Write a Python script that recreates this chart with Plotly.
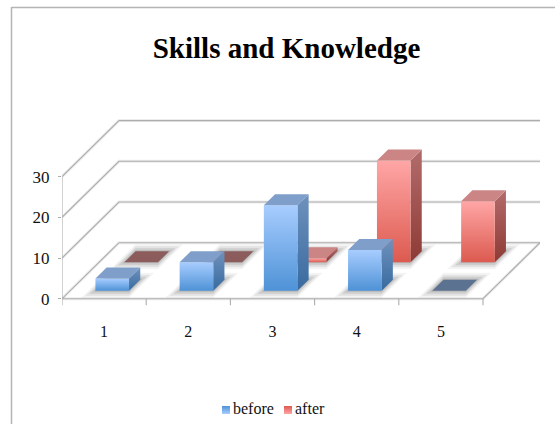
import plotly.graph_objects as go

# ---- data ----
categories = [1, 2, 3, 4, 5]
category_labels = ["1", "2", "3", "4", "5"]
before = [3, 7, 21, 10, 0]
after = [0, 0, 1, 25, 15]
value_ticks = [0, 10, 20, 30]
title_text = "Skills and Knowledge"

# ---- oblique projection of (category, value, depth) on the 2D axes ----
W, H = 555, 424
PX_CAT, PX_VAL = 84.2, 4.07
ML, MR, MT, MB = 62, 15, 100, 0
ZERO_PX = 298.7
DEPTH_X, DEPTH_Y = 57.0, 56.0   # pixels covered by the full floor depth


def P(c, v, d, ex=0.0):
    return (c + (d * DEPTH_X + ex) / PX_CAT, v + d * DEPTH_Y / PX_VAL)


def poly(points, **kw):
    xs = [p[0] for p in points] + [points[0][0]]
    ys = [p[1] for p in points] + [points[0][1]]
    return go.Scatter(x=xs, y=ys, mode="lines", fill="toself", line=dict(width=0),
                      hoverinfo="skip", showlegend=False, **kw)


def grad(top, bottom):
    return dict(type="vertical", colorscale=[[0, bottom], [1, top]])


fig = go.Figure()
L, R = 0.5, 5.5
GRID = "#adadad"


def line(points, color=GRID, width=1.1):
    fig.add_trace(go.Scatter(x=[p[0] for p in points], y=[p[1] for p in points], mode="lines",
                             line=dict(color=color, width=width), hoverinfo="skip", showlegend=False))


# floor
fig.add_trace(poly([P(L, 0, 0), P(R, 0, 0), P(R, 0, 1), P(L, 0, 1)], fillcolor="#ffffff"))
# gridlines on side and back wall
for v in value_ticks:
    pts = [P(L, v, 0), P(L, v, 1), P(R, v, 1)]
    line(pts, "rgba(170,170,170,0.22)", 3)
    line(pts)
line([P(R, 0, 1), P(R, 0, 0), P(L, 0, 0)], "rgba(170,170,170,0.22)", 3)
line([P(R, 0, 1), P(R, 0, 0), P(L, 0, 0)])
line([P(L, 0, 0), P(L, value_ticks[-1], 0)])
# category tick marks
edges = [c - 0.5 for c in categories] + [categories[-1] + 0.5]
for e in edges:
    x, y = P(e, 0, 0)
    line([(x, y), (x, y - 6.5 / PX_VAL)])

HALF = 16.8 / PX_CAT    # half width of a bar
D = 11.0 / DEPTH_Y      # bar depth
styles = {
    "before": dict(d0=8.0 / DEPTH_Y, front=("#a8cdff", "#4e92d6"), side=("#6f92bd", "#386a9f"),
                   top="#7f9fca", flat="#5c7291"),
    "after": dict(d0=36.4 / DEPTH_Y, front=("#ffa6a6", "#dc5a4f"), side=("#b26c6c", "#8e3a35"),
                  top="#cb8585", flat="#8c5b5b"),
}


def footprint(c, s, grow=0.0):
    d0 = s["d0"] - grow / DEPTH_Y
    d1 = s["d0"] + D + grow / DEPTH_Y
    a, b = c - HALF, c + HALF
    return [P(a, 0, d0, -grow), P(b, 0, d0, grow), P(b, 0, d1, grow), P(a, 0, d1, -grow)]


# shadows on the floor
for name in ("after", "before"):
    for c in categories:
        for g, a in ((7, .06), (5, .09), (3, .12), (1, .15)):
            fig.add_trace(poly(footprint(c, styles[name], g), fillcolor=f"rgba(60,60,60,{a})"))

# bars: back row first, so that the front row overlaps it
for name, vals in (("after", after), ("before", before)):
    s = styles[name]
    d0, d1 = s["d0"], s["d0"] + D
    for c, v in zip(categories, vals):
        a, b = c - HALF, c + HALF
        if v > 0:
            fig.add_trace(poly([P(b, 0, d0), P(b, 0, d1), P(b, v, d1), P(b, v, d0)],
                               fillgradient=grad(*s["side"])))
            fig.add_trace(poly([P(a, 0, d0), P(b, 0, d0), P(b, v, d0), P(a, v, d0)],
                               fillgradient=grad(*s["front"])))
        fig.add_trace(poly([P(a, v, d0), P(b, v, d0), P(b, v, d1), P(a, v, d1)],
                           fillcolor=s["top"] if v > 0 else s["flat"]))

font = "Liberation Serif"
TXT = "#111111"

# category labels, below the floor
fig.add_trace(go.Scatter(x=categories, y=[-(333 - ZERO_PX) / PX_VAL] * len(categories), mode="text",
                         text=category_labels, textposition="middle center", hoverinfo="skip",
                         showlegend=False, textfont=dict(family=font, size=16, color=TXT)))

# legend: swatch + label
leg_y = -(410 - ZERO_PX) / PX_VAL
for name, c_px, t_px, col, col2 in (("before", 226, 233, "#a8cdff", "#4e92d6"),
                                     ("after", 288, 295, "#ffa6a6", "#dc5a4f")):
    fig.add_trace(go.Scatter(x=[L + (c_px - ML) / PX_CAT], y=[leg_y], mode="markers", name=name,
                             showlegend=False, hoverinfo="skip",
                             marker=dict(symbol="square", size=8, color=col2, line=dict(width=0),
                                         gradient=dict(type="vertical", color=col))))
    fig.add_trace(go.Scatter(x=[L + (t_px - ML) / PX_CAT], y=[leg_y], mode="text", text=[name],
                             textposition="middle right", showlegend=False, hoverinfo="skip",
                             textfont=dict(family=font, size=16, color=TXT)))


def px_x(p):
    return (p - ML) / (W - ML - MR)


def px_y(p):
    return (H - MB - p) / (H - MT - MB)


frame = [
    dict(type="line", xref="paper", yref="paper", x0=px_x(11.5), x1=px_x(11.5), y0=px_y(7), y1=px_y(424),
         line=dict(color="#b5b5b5", width=1.5)),
    dict(type="line", xref="paper", yref="paper", x0=px_x(11.5), x1=px_x(555), y0=px_y(7.5), y1=px_y(7.5),
         line=dict(color="#b5b5b5", width=1.5)),
]

fig.update_layout(
    width=W, height=H, margin=dict(l=ML, r=MR, t=MT, b=MB, pad=0, autoexpand=False),
    paper_bgcolor="rgba(0,0,0,0)", plot_bgcolor="rgba(0,0,0,0)", showlegend=False,
    title=dict(text=f"<b>{title_text}</b>", x=286.5 / W, xanchor="center", y=1 - 48 / H, yanchor="middle",
               font=dict(family=font, size=29, color="#000000")),
    xaxis=dict(range=[L, L + (W - ML - MR) / PX_CAT], visible=False, fixedrange=True),
    yaxis=dict(range=[-(H - ZERO_PX) / PX_VAL, (ZERO_PX - MT) / PX_VAL], tickvals=value_ticks, showgrid=False,
               zeroline=False, showline=False, ticks="outside", ticklen=3, tickcolor=GRID, tickwidth=1.2,
               ticklabelstandoff=5, tickfont=dict(family=font, size=17, color=TXT), fixedrange=True),
    shapes=frame,
)

fig.write_html("out.html", config={"displayModeBar": False},
               post_script="document.body.style.margin='0';")
